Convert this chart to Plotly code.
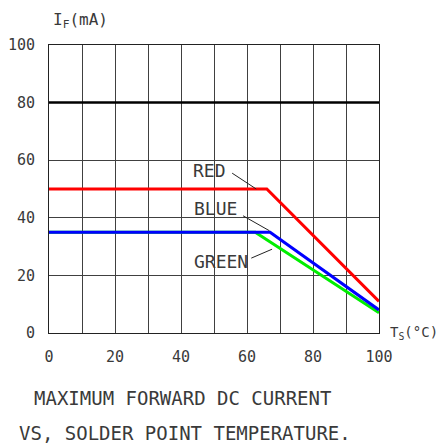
import plotly.graph_objects as go

# ---- data ----
red_x = [0, 66, 100]
red_y = [50, 50, 11]
blue_x = [0, 67, 100]
blue_y = [35, 35, 8]
green_x = [0, 62.5, 100]
green_y = [35, 35, 7]

x_tickvals = [0, 10, 20, 30, 40, 50, 60, 70, 80, 90, 100]
x_ticktext = ["0", "", "20", "", "40", "", "60", "", "80", "", "100"]
y_tickvals = [0, 20, 40, 60, 80, 100]
y_ticktext = ["0", "20", "40", "60", "80", "100"]

FONT = "DejaVu Sans Mono"
TXT = "#3a3a3a"

fig = go.Figure()
fig.add_trace(go.Scatter(x=green_x, y=green_y, mode="lines",
                         line=dict(color="#00ee00", width=3), showlegend=False))
fig.add_trace(go.Scatter(x=blue_x, y=blue_y, mode="lines",
                         line=dict(color="#0000ff", width=3), showlegend=False))
fig.add_trace(go.Scatter(x=red_x, y=red_y, mode="lines",
                         line=dict(color="#ff0000", width=3), showlegend=False))

# bold 80 gridline
fig.add_shape(type="line", xref="x domain", yref="y", x0=0, x1=1, y0=80, y1=80,
              line=dict(color="black", width=2.5), layer="above")

# leader lines
leaders = [
    (55.5, 55.5, 62.8, 50.0),
    (58.8, 40.7, 66.8, 35.5),
    (61.3, 26.0, 67.6, 29.1),
]
for x0, y0, x1, y1 in leaders:
    fig.add_shape(type="line", xref="x", yref="y", x0=x0, y0=y0, x1=x1, y1=y1,
                  line=dict(color="#222", width=1))

labels = [("RED", 48.6, 56.3), ("BLUE", 50.4, 43.4), ("GREEN", 52.0, 25.0)]
for t, x, y in labels:
    fig.add_annotation(text=t, x=x, y=y, xref="x", yref="y", showarrow=False,
                       xanchor="center", yanchor="middle",
                       font=dict(family=FONT, size=18, color=TXT))

def paper_note(text, x, y, size, xanchor="center"):
    fig.add_annotation(text=text, x=x, y=y, xref="paper", yref="paper",
                       showarrow=False, xanchor=xanchor, yanchor="middle",
                       font=dict(family=FONT, size=size, color=TXT))

paper_note("I<sub>F</sub>(mA)", 0.094, 1.085, 16)
paper_note("T<sub>S</sub>(°C)", 1.027, 0.0, 14, xanchor="left")
paper_note("MAXIMUM FORWARD DC CURRENT", 0.406, -0.226, 19)
paper_note("VS, SOLDER POINT TEMPERATURE.", 0.412, -0.347, 19)

fig.update_layout(
    width=439, height=438,
    margin=dict(l=41, r=68, t=37, b=113, autoexpand=False),
    paper_bgcolor="white", plot_bgcolor="white",
    showlegend=False,
    xaxis=dict(range=[0, 100], tickvals=x_tickvals, ticktext=x_ticktext,
               showgrid=True, gridcolor="#404040", gridwidth=1,
               showline=True, linecolor="#222", linewidth=1, mirror=True,
               zeroline=False, ticks="", ticklabelstandoff=10, automargin=False,
               tickfont=dict(family=FONT, size=15, color=TXT), fixedrange=True),
    yaxis=dict(range=[0, 100], tickvals=y_tickvals, ticktext=y_ticktext,
               showgrid=True, gridcolor="#404040", gridwidth=1,
               showline=True, linecolor="#222", linewidth=1, mirror=True,
               zeroline=False, ticks="", ticklabelstandoff=10, automargin=False,
               tickfont=dict(family=FONT, size=15, color=TXT), fixedrange=True),
)

fig.write_html("out.html")
